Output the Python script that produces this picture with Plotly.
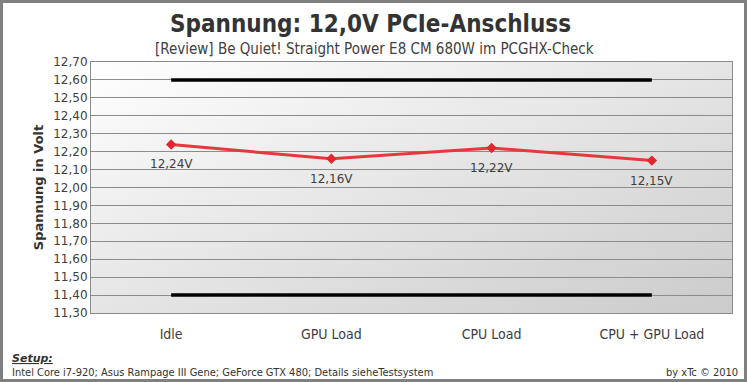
import base64
import plotly.graph_objects as go

categories = ["Idle", "GPU Load", "CPU Load", "CPU + GPU Load"]
voltages = [12.24, 12.16, 12.22, 12.15]
upper_limit = [12.60, 12.60, 12.60, 12.60]
lower_limit = [11.40, 11.40, 11.40, 11.40]
y_ticks = [11.30 + 0.1 * i for i in range(15)]

W, H = 747, 382
ML, MR, MT, MB = 91, 15, 62, 69
PW, PH = W - ML - MR, H - MT - MB

svg = ('<svg xmlns="http://www.w3.org/2000/svg" width="100" height="100" preserveAspectRatio="none">'
       '<defs><linearGradient id="g" x1="0" y1="0" x2="1" y2="1">'
       '<stop offset="0" stop-color="#ffffff"/><stop offset="1" stop-color="#cbcbcb"/>'
       '</linearGradient></defs><rect width="100" height="100" fill="url(#g)"/></svg>')
svg_uri = "data:image/svg+xml;base64," + base64.b64encode(svg.encode()).decode()

fig = go.Figure()
for lim in (upper_limit, lower_limit):
    fig.add_trace(go.Scatter(x=categories, y=lim, mode="lines",
                             line=dict(color="black", width=3.5),
                             hoverinfo="skip", showlegend=False))
fig.add_trace(go.Scatter(
    x=categories, y=voltages, mode="lines+markers",
    line=dict(color="#e8383d", width=3),
    marker=dict(symbol="diamond", size=8, color="#e0262e"),
    showlegend=False))

label_annotations = [
    dict(x=c, y=v, xref="x", yref="y", text=f"{v:.2f}V".replace(".", ","),
         showarrow=False, yshift=-20, xanchor="center", yanchor="middle",
         font=dict(family="DejaVu Sans", size=12, color="#404040"))
    for c, v in zip(categories, voltages)
]

axis_font = dict(family="DejaVu Sans", size=12, color="#404040")
fig.update_layout(
    width=W, height=H,
    margin=dict(l=ML, r=MR, t=MT, b=MB),
    paper_bgcolor="white", plot_bgcolor="rgba(0,0,0,0)",
    separators=",.",
    images=[dict(source=svg_uri, xref="paper", yref="paper", x=0, y=1,
                 sizex=1, sizey=1, sizing="stretch", layer="below")],
    xaxis=dict(type="category", range=[-0.5, 3.5], showgrid=False,
               showline=True, linecolor="#8c8c8c", linewidth=1, mirror=True,
               ticks="", ticklabelstandoff=8,
               tickfont=dict(family="Liberation Sans Narrow, DejaVu Sans Condensed, sans-serif", size=14, color="#404040")),
    yaxis=dict(range=[11.30, 12.70], tickvals=y_ticks, tickformat=".2f",
               showgrid=True, gridcolor="#8c8c8c", gridwidth=1,
               showline=True, linecolor="#8c8c8c", linewidth=1, mirror=True,
               ticks="", tickfont=axis_font, zeroline=False,
               title=dict(text="<b>Spannung in Volt</b>", standoff=6,
                          font=dict(family="DejaVu Sans", size=13, color="#333333"))),
    shapes=[dict(type="rect", xref="paper", yref="paper",
                 x0=(1.5 - ML) / PW, x1=1 + (MR - 1.5) / PW,
                 y0=-(MB - 1.5) / PH, y1=1 + (MT - 1.5) / PH,
                 line=dict(color="#808080", width=3), layer="above")],
    annotations=label_annotations + [
        dict(text="<b>Spannung: 12,0V PCIe-Anschluss</b>", xref="paper", yref="paper",
             x=(370 - ML) / PW, y=1 + (MT - 24) / PH, xanchor="center", yanchor="middle",
             showarrow=False, font=dict(family="DejaVu Sans Condensed, DejaVu Sans", size=24, color="#333333")),
        dict(text="[Review] Be Quiet! Straight Power E8 CM 680W im PCGHX-Check", xref="paper", yref="paper",
             x=(374 - ML) / PW, y=1 + (MT - 49) / PH, xanchor="center", yanchor="middle",
             showarrow=False, font=dict(family="Liberation Sans Narrow, DejaVu Sans Condensed, sans-serif", size=15, color="#404040")),
        dict(text="<b><i><u>Setup:</u></i></b>", xref="paper", yref="paper",
             x=(10 - ML) / PW, y=-(358 - MT - PH) / PH, xanchor="left", yanchor="middle",
             showarrow=False, font=dict(family="DejaVu Sans", size=11, color="#333333")),
        dict(text="Intel Core i7-920; Asus Rampage III Gene; GeForce GTX 480; Details sieheTestsystem",
             xref="paper", yref="paper",
             x=(10 - ML) / PW, y=-(372 - MT - PH) / PH, xanchor="left", yanchor="middle",
             showarrow=False, font=dict(family="DejaVu Sans Condensed, DejaVu Sans", size=11, color="#333333")),
        dict(text="by xTc © 2010", xref="paper", yref="paper",
             x=(740 - ML) / PW, y=-(372 - MT - PH) / PH, xanchor="right", yanchor="middle",
             showarrow=False, font=dict(family="DejaVu Sans Condensed, DejaVu Sans", size=11, color="#333333")),
    ],
)

fig.write_html("out.html")
